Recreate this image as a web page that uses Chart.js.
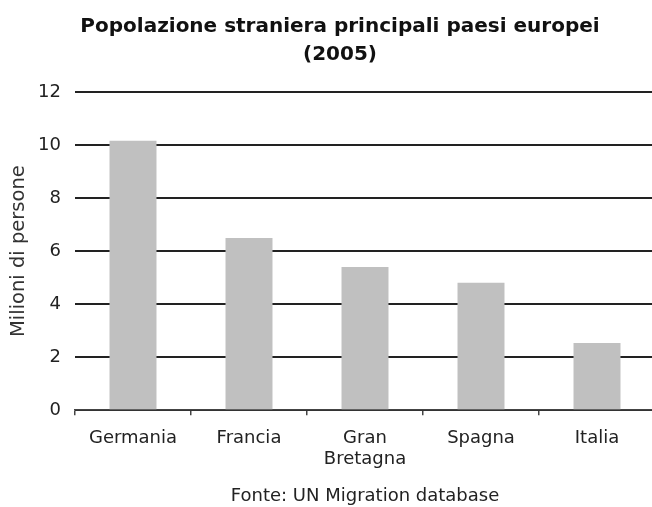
<!DOCTYPE html>
<html>
<head>
<meta charset="utf-8">
<script src="https://cdn.jsdelivr.net/npm/chart.js@4"></script>
<style>
html, body { margin: 0; padding: 0; background: #fff; overflow: hidden; }
#wrap { position: relative; width: 652px; height: 507px; overflow: hidden; }
#chart { position: absolute; left: 0; top: 0; }
#title { position: absolute; left: 0; top: 11px; width: 680px; text-align: center;
         font: bold 20px/28px "DejaVu Sans", Verdana, sans-serif; color: #111; }
</style>
</head>
<body>
<div id="wrap">
    <canvas id="chart" width="660" height="507"></canvas>
    <div id="title">Popolazione straniera principali paesi europei<br>(2005)</div>
</div>
<script>
// stranieri residenti, milioni di persone
const paesi = ['Germania', 'Francia', ['Gran', 'Bretagna'], 'Spagna', 'Italia'];
const milioni = [10.16, 6.49, 5.40, 4.81, 2.53];
const tickY = [0, 2, 4, 6, 8, 10, 12];

const FONT = '"DejaVu Sans", Verdana, sans-serif';
const TEXT = '#222';

new Chart(document.getElementById('chart'), {
    type: 'bar',
    data: {
        labels: paesi,
        datasets: [{
            data: milioni,
            backgroundColor: '#c0c0c0',
            borderWidth: 0,
            barPercentage: 0.405,
            categoryPercentage: 1
        }]
    },
    options: {
        responsive: false,
        devicePixelRatio: 1,
        animation: false,
        layout: { padding: { top: 92, right: 5, bottom: 0, left: 0 } },
        plugins: {
            legend: { display: false },
            tooltip: { enabled: false },
            subtitle: {
                display: true,
                position: 'bottom',
                fullSize: false,
                text: 'Fonte: UN Migration database',
                color: TEXT,
                font: { family: FONT, size: 18, weight: 'normal' },
                padding: { top: 3, bottom: 0 }
            }
        },
        scales: {
            x: {
                grid: { offset: true, drawOnChartArea: false, tickLength: 5, color: '#444', lineWidth: 1.5 },
                border: { color: '#444', width: 1.5 },
                ticks: { color: TEXT, padding: 12, font: { family: FONT, size: 18 }, maxRotation: 0 }
            },
            y: {
                min: tickY[0],
                max: tickY[tickY.length - 1],
                afterFit: s => { s.width = 75; },
                afterBuildTicks: s => { s.ticks = tickY.map(v => ({ value: v })); },
                grid: { drawTicks: false, color: '#222', lineWidth: 2 },
                border: { display: false },
                ticks: { color: TEXT, padding: 14, font: { family: FONT, size: 18 } },
                title: {
                    display: true,
                    text: 'Milioni di persone',
                    color: '#333',
                    font: { family: FONT, size: 19.5 },
                    padding: { top: 7, bottom: 7 }
                }
            }
        }
    }
});
</script>
</body>
</html>
